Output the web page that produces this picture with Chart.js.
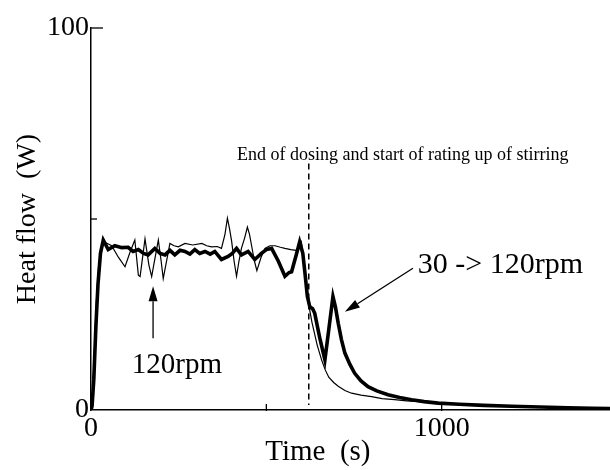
<!DOCTYPE html>
<html>
<head>
<meta charset="utf-8">
<script src="https://cdn.jsdelivr.net/npm/chart.js@4"></script>
<style>
  html, body { margin: 0; padding: 0; background: #fff; }
  #wrap { width: 610px; height: 470px; }
</style>
</head>
<body>
<div id="wrap"><canvas id="chart"></canvas></div>
<script>
// run at 30 -> 120 rpm (thick line)
const timeSlow = [0, 3, 8, 14, 20, 27, 35, 49, 68, 88, 106, 120, 135, 150, 163, 182, 197, 211, 225, 239, 254, 268, 282, 296, 310, 325, 340, 353, 372, 391, 403, 415, 429, 448, 467, 486, 500, 515, 534, 553, 565, 572, 585, 595, 604, 610, 617, 624, 632, 638, 652, 667, 678, 690, 697, 705, 714, 724, 738, 752, 770, 790, 815, 847, 880, 914, 950, 990, 1050, 1120, 1200, 1280, 1360, 1430, 1480];
const heatSlow = [0, 1, 8, 22, 33, 41, 44.5, 42, 43, 42.5, 42.6, 41.5, 42, 41, 40.6, 42.3, 41, 40.6, 41.8, 40.6, 41.8, 41.5, 40.8, 42, 41, 41.5, 40.8, 41.5, 39.4, 40.2, 41, 42.3, 40.6, 41.5, 39.4, 41, 42, 42.3, 39, 35, 36, 36.2, 40.5, 44, 41, 36, 29.7, 27, 26.5, 25.3, 19, 13.1, 21, 29.7, 27, 22.7, 18.5, 14.9, 12, 9.6, 7.6, 6.1, 5, 4, 3.3, 2.7, 2.2, 1.8, 1.5, 1.2, 1.0, 0.8, 0.6, 0.45, 0.35];

// run at 120 rpm (thin line)
const timeFast = [0, 4, 9, 15, 22, 30, 37, 48, 59, 78, 97, 112, 125, 135, 140, 154, 165, 173, 183, 192, 200, 206, 225, 237, 249, 268, 290, 316, 330, 344, 360, 372, 382, 389, 395, 401, 408, 415, 422, 429, 438, 446, 452, 458, 466, 473, 485, 496, 510, 525, 540, 553, 570, 585, 593, 600, 606, 612, 620, 630, 645, 658, 668, 678, 692, 705, 724, 743, 770, 800, 830, 866, 900, 950, 990, 1050, 1120, 1200, 1280, 1360, 1430, 1480];
const heatFast = [0, 3, 14, 28, 38, 42, 44, 43.5, 43, 40, 37.5, 41.5, 44.5, 35.3, 34.9, 44.8, 38, 34.9, 40, 44.5, 39, 34.4, 43.6, 43, 42.7, 43.6, 43.2, 43.6, 43, 42.7, 42.8, 42.3, 46, 50.2, 47.5, 44.2, 39, 35, 39, 42.3, 45, 47.9, 46, 43, 39, 36.5, 40, 42.3, 43, 43, 42.6, 42.3, 42, 41.8, 42.5, 44, 40, 34, 28, 23, 17, 13, 10.5, 8.6, 7.2, 6.2, 5.1, 4.4, 3.9, 3.5, 3.0, 2.7, 2.4, 2.1, 1.8, 1.5, 1.2, 1.0, 0.75, 0.55, 0.4, 0.3];

// end of dosing marker
const dosingTime = [621, 621];
const dosingHeat = [64.5, 1.3];

const xTicks = [0, 500, 1000];
const xLabels = ['0', '', '1000'];
const yTicks = [0, 50, 100];
const yLabels = ['0', '', '100'];

const serif = '"Liberation Serif", "Times New Roman", serif';

const toPoints = (xs, ys) => xs.map((x, i) => ({ x: x, y: ys[i] }));

// arrows and labels, positioned in data units
const notes = {
  dosing: { text: 'End of dosing and start of rating up of stirring', x: 889, y: 66.8 },
  fast: { text: '120rpm', x: 245, y: 11.8, arrow: [177, 18.8, 177, 32.4] },
  slow: { text: '30 -> 120rpm', x: 932, y: 38, arrow: [918, 37.1, 724, 25.7] }
};

function arrow(ctx, x1, y1, x2, y2) {
  const ang = Math.atan2(y2 - y1, x2 - x1);
  const len = 15, half = 4.5;
  const bx = x2 - len * Math.cos(ang), by = y2 - len * Math.sin(ang);
  ctx.beginPath();
  ctx.moveTo(x1, y1);
  ctx.lineTo(bx, by);
  ctx.stroke();
  ctx.beginPath();
  ctx.moveTo(x2, y2);
  ctx.lineTo(bx + half * Math.sin(ang), by - half * Math.cos(ang));
  ctx.lineTo(bx - half * Math.sin(ang), by + half * Math.cos(ang));
  ctx.closePath();
  ctx.fill();
}

const extras = {
  id: 'extras',
  afterDraw(chart) {
    const ctx = chart.ctx;
    const xs = chart.scales.x, ys = chart.scales.y;
    ctx.save();
    ctx.strokeStyle = '#000';
    ctx.fillStyle = '#000';
    ctx.lineWidth = 1.3;

    // inner tick marks
    xTicks.slice(1).forEach(v => {
      const px = xs.getPixelForValue(v);
      ctx.beginPath();
      ctx.moveTo(px, ys.bottom + 1);
      ctx.lineTo(px, ys.bottom - 6);
      ctx.stroke();
    });
    yTicks.slice(1).forEach((v, i) => {
      const py = ys.getPixelForValue(v);
      ctx.beginPath();
      ctx.moveTo(xs.left, py);
      ctx.lineTo(xs.left + (i === 1 ? 12 : 6), py);
      ctx.stroke();
    });

    // annotations
    ctx.textBaseline = 'middle';
    ctx.font = '18px ' + serif;
    ctx.textAlign = 'center';
    ctx.fillText(notes.dosing.text, xs.getPixelForValue(notes.dosing.x), ys.getPixelForValue(notes.dosing.y));

    ctx.font = '29px ' + serif;
    ctx.fillText(notes.fast.text, xs.getPixelForValue(notes.fast.x), ys.getPixelForValue(notes.fast.y));
    ctx.font = '30px ' + serif;
    ctx.textAlign = 'left';
    ctx.fillText(notes.slow.text, xs.getPixelForValue(notes.slow.x), ys.getPixelForValue(notes.slow.y));

    [notes.fast.arrow, notes.slow.arrow].forEach(a => {
      arrow(ctx, xs.getPixelForValue(a[0]), ys.getPixelForValue(a[1]),
        xs.getPixelForValue(a[2]), ys.getPixelForValue(a[3]));
    });

    // x axis title
    ctx.font = '29px ' + serif;
    ctx.textAlign = 'center';
    ctx.fillText('Time  (s)', xs.getPixelForValue(647), 452);
    ctx.restore();
  }
};

new Chart(document.getElementById('chart'), {
  type: 'line',
  data: {
    datasets: [
      {
        label: '30 -> 120rpm',
        data: toPoints(timeSlow, heatSlow),
        borderColor: '#000',
        borderWidth: 3.6,
        pointRadius: 0,
        tension: 0
      },
      {
        label: '120rpm',
        data: toPoints(timeFast, heatFast),
        borderColor: '#000',
        borderWidth: 1.2,
        pointRadius: 0,
        tension: 0
      },
      {
        label: 'End of dosing',
        data: toPoints(dosingTime, dosingHeat),
        borderColor: '#000',
        borderWidth: 1.5,
        borderDash: [6, 4],
        pointRadius: 0
      }
    ]
  },
  options: {
    responsive: true,
    maintainAspectRatio: false,
    animation: false,
    layout: { padding: { top: 28, right: 0, left: 0, bottom: 0 } },
    plugins: {
      legend: { display: false },
      tooltip: { enabled: false }
    },
    scales: {
      x: {
        type: 'linear',
        min: 0,
        max: 1480,
        grid: { display: false, drawTicks: false },
        border: { display: true, color: '#000', width: 1.5 },
        afterBuildTicks: s => { s.ticks = xTicks.map(v => ({ value: v })); },
        afterFit: s => { s.height = 60; },
        ticks: {
          color: '#000',
          padding: 2,
          maxRotation: 0,
          autoSkip: false,
          font: { family: serif, size: 28 },
          callback: v => xLabels[xTicks.indexOf(v)]
        }
      },
      y: {
        min: 0,
        max: 100,
        grid: { display: false, drawTicks: false },
        border: { display: true, color: '#000', width: 1.5 },
        afterBuildTicks: s => { s.ticks = yTicks.map(v => ({ value: v })); },
        afterFit: s => { s.width = 91; },
        title: {
          display: true,
          text: 'Heat flow  (W)',
          color: '#000',
          padding: { top: 11, bottom: 0 },
          font: { family: serif, size: 28 }
        },
        ticks: {
          color: '#000',
          padding: 2,
          autoSkip: false,
          font: { family: serif, size: 28 },
          callback: v => yLabels[yTicks.indexOf(v)]
        }
      }
    }
  },
  plugins: [extras]
});
</script>
</body>
</html>
